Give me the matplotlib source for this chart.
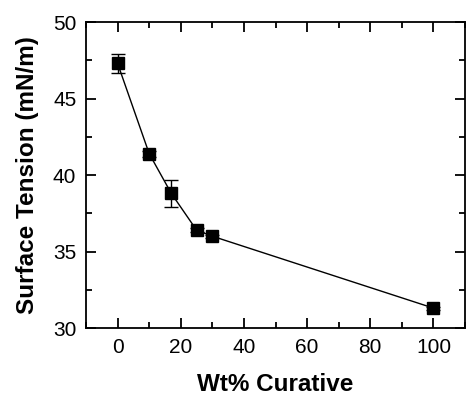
import matplotlib
matplotlib.use("Agg")
import matplotlib.pyplot as plt
from matplotlib.ticker import MultipleLocator

plt.rcParams["font.family"] = ["Liberation Sans", "DejaVu Sans"]

wt_curative = [0, 10, 17, 25, 30, 100]
surface_tension = [47.3, 41.4, 38.8, 36.4, 36.0, 31.3]
error = [0.6, 0.2, 0.87, 0.15, 0.1, 0.1]

fig = plt.figure(figsize=(4.66, 3.96), dpi=100)
ax = fig.add_axes([0.1845, 0.1717, 0.8135, 0.7727])

ax.errorbar(
    wt_curative,
    surface_tension,
    yerr=error,
    marker="s",
    markersize=8,
    color="black",
    linewidth=1.0,
    elinewidth=1.0,
    capsize=5,
    capthick=1.0,
)

ax.set_xlim(-10, 110)
ax.set_ylim(30, 50)
ax.xaxis.set_major_locator(MultipleLocator(20))
ax.xaxis.set_minor_locator(MultipleLocator(10))
ax.yaxis.set_major_locator(MultipleLocator(5))
ax.yaxis.set_minor_locator(MultipleLocator(2.5))
ax.tick_params(which="both", direction="in", top=True, right=True, width=1.3)
ax.tick_params(which="major", length=7, labelsize=15, pad=7)
ax.tick_params(which="minor", length=4)
for s in ax.spines.values():
    s.set_linewidth(1.3)

ax.set_xlabel("Wt% Curative", fontsize=17.5, fontweight="bold", labelpad=12)
ax.set_ylabel("Surface Tension (mN/m)", fontsize=17.5, fontweight="bold", labelpad=10)

fig.savefig("out.png", dpi=100)
